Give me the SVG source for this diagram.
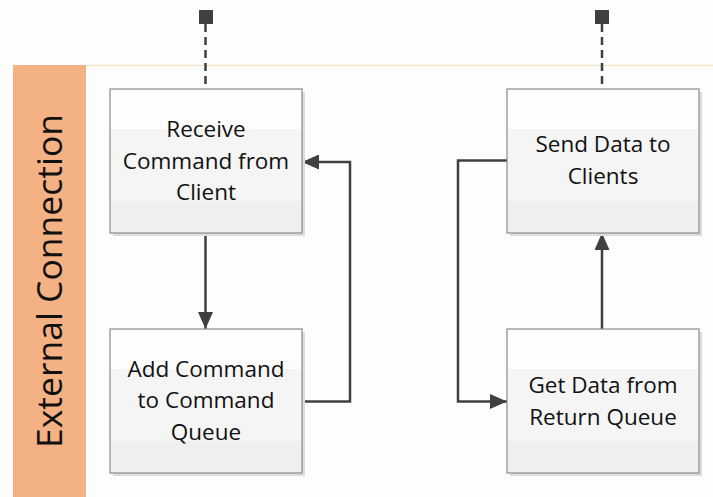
<svg xmlns="http://www.w3.org/2000/svg" width="713" height="497" viewBox="0 0 713 497">
<defs>
<linearGradient id="boxfill" x1="0" y1="0" x2="0" y2="1">
<stop offset="0" stop-color="#FDFDFD"/>
<stop offset="0.28" stop-color="#FDFDFD"/>
<stop offset="0.28" stop-color="#F5F5F5"/>
<stop offset="0.78" stop-color="#F5F5F5"/>
<stop offset="0.78" stop-color="#EFEFEF"/>
<stop offset="1" stop-color="#EFEFEF"/>
</linearGradient>
<marker id="arr" markerWidth="17" markerHeight="15" refX="17" refY="7.5" orient="auto" markerUnits="userSpaceOnUse">
<path d="M0,0 L17,7.5 L0,15 Z" fill="#404040"/>
</marker>
</defs>
<style>
.box{fill:url(#boxfill);stroke:#8C8C8C;stroke-width:1.2}
.shadow{fill:#DCDCDC}
.lbl{font-family:"Open Sans","Liberation Sans",sans-serif;font-size:22.5px;fill:#111;text-anchor:middle}
.conn{fill:none;stroke:#404040;stroke-width:2.5}
.dash{fill:none;stroke:#404040;stroke-width:2.5;stroke-dasharray:8,5}
</style>
<rect x="0" y="0" width="713" height="497" fill="#FDFDFD"/>
<g id="lane">
<rect x="13" y="65" width="73" height="432" fill="#F4B183"/>
<line x1="86" y1="65.5" x2="713" y2="65.5" stroke="#F2E8C8" stroke-width="1.5"/>
<text x="0" y="0" transform="translate(62,281) rotate(-90)" font-family="'Open Sans','Liberation Sans',sans-serif" font-size="35.5" fill="#111" text-anchor="middle">External Connection</text>
</g>
<g id="connectors">
<rect x="199" y="10" width="14" height="14" fill="#404040"/>
<line class="dash" x1="205.5" y1="24" x2="205.5" y2="89"/>
<rect x="595" y="10" width="14" height="14" fill="#404040"/>
<line class="dash" x1="602" y1="24" x2="602" y2="89"/>
<path class="conn" d="M205.5,233 L205.5,329" marker-end="url(#arr)"/>
<path class="conn" d="M302,401.5 L350,401.5 L350,162 L302,162" marker-end="url(#arr)"/>
<path class="conn" d="M507,160.5 L458,160.5 L458,401.5 L507,401.5" marker-end="url(#arr)"/>
<path class="conn" d="M602,329 L602,233" marker-end="url(#arr)"/>
</g>
<g id="receive">
<rect class="shadow" x="113" y="92" width="192" height="144"/>
<rect class="box" x="110" y="89" width="192" height="144"/>
<text class="lbl" x="206" y="137">Receive</text>
<text class="lbl" x="206" y="168.5">Command from</text>
<text class="lbl" x="206" y="200">Client</text>
</g>
<g id="add">
<rect class="shadow" x="113" y="332" width="192" height="144"/>
<rect class="box" x="110" y="329" width="192" height="144"/>
<text class="lbl" x="206" y="376.5">Add Command</text>
<text class="lbl" x="206" y="408">to Command</text>
<text class="lbl" x="206" y="439.5">Queue</text>
</g>
<g id="send">
<rect class="shadow" x="510" y="92" width="192" height="144"/>
<rect class="box" x="507" y="89" width="192" height="144"/>
<text class="lbl" x="603" y="152">Send Data to</text>
<text class="lbl" x="603" y="183.5">Clients</text>
</g>
<g id="get">
<rect class="shadow" x="510" y="332" width="192" height="144"/>
<rect class="box" x="507" y="329" width="192" height="144"/>
<text class="lbl" x="603" y="393">Get Data from</text>
<text class="lbl" x="603" y="424.5">Return Queue</text>
</g>
</svg>
